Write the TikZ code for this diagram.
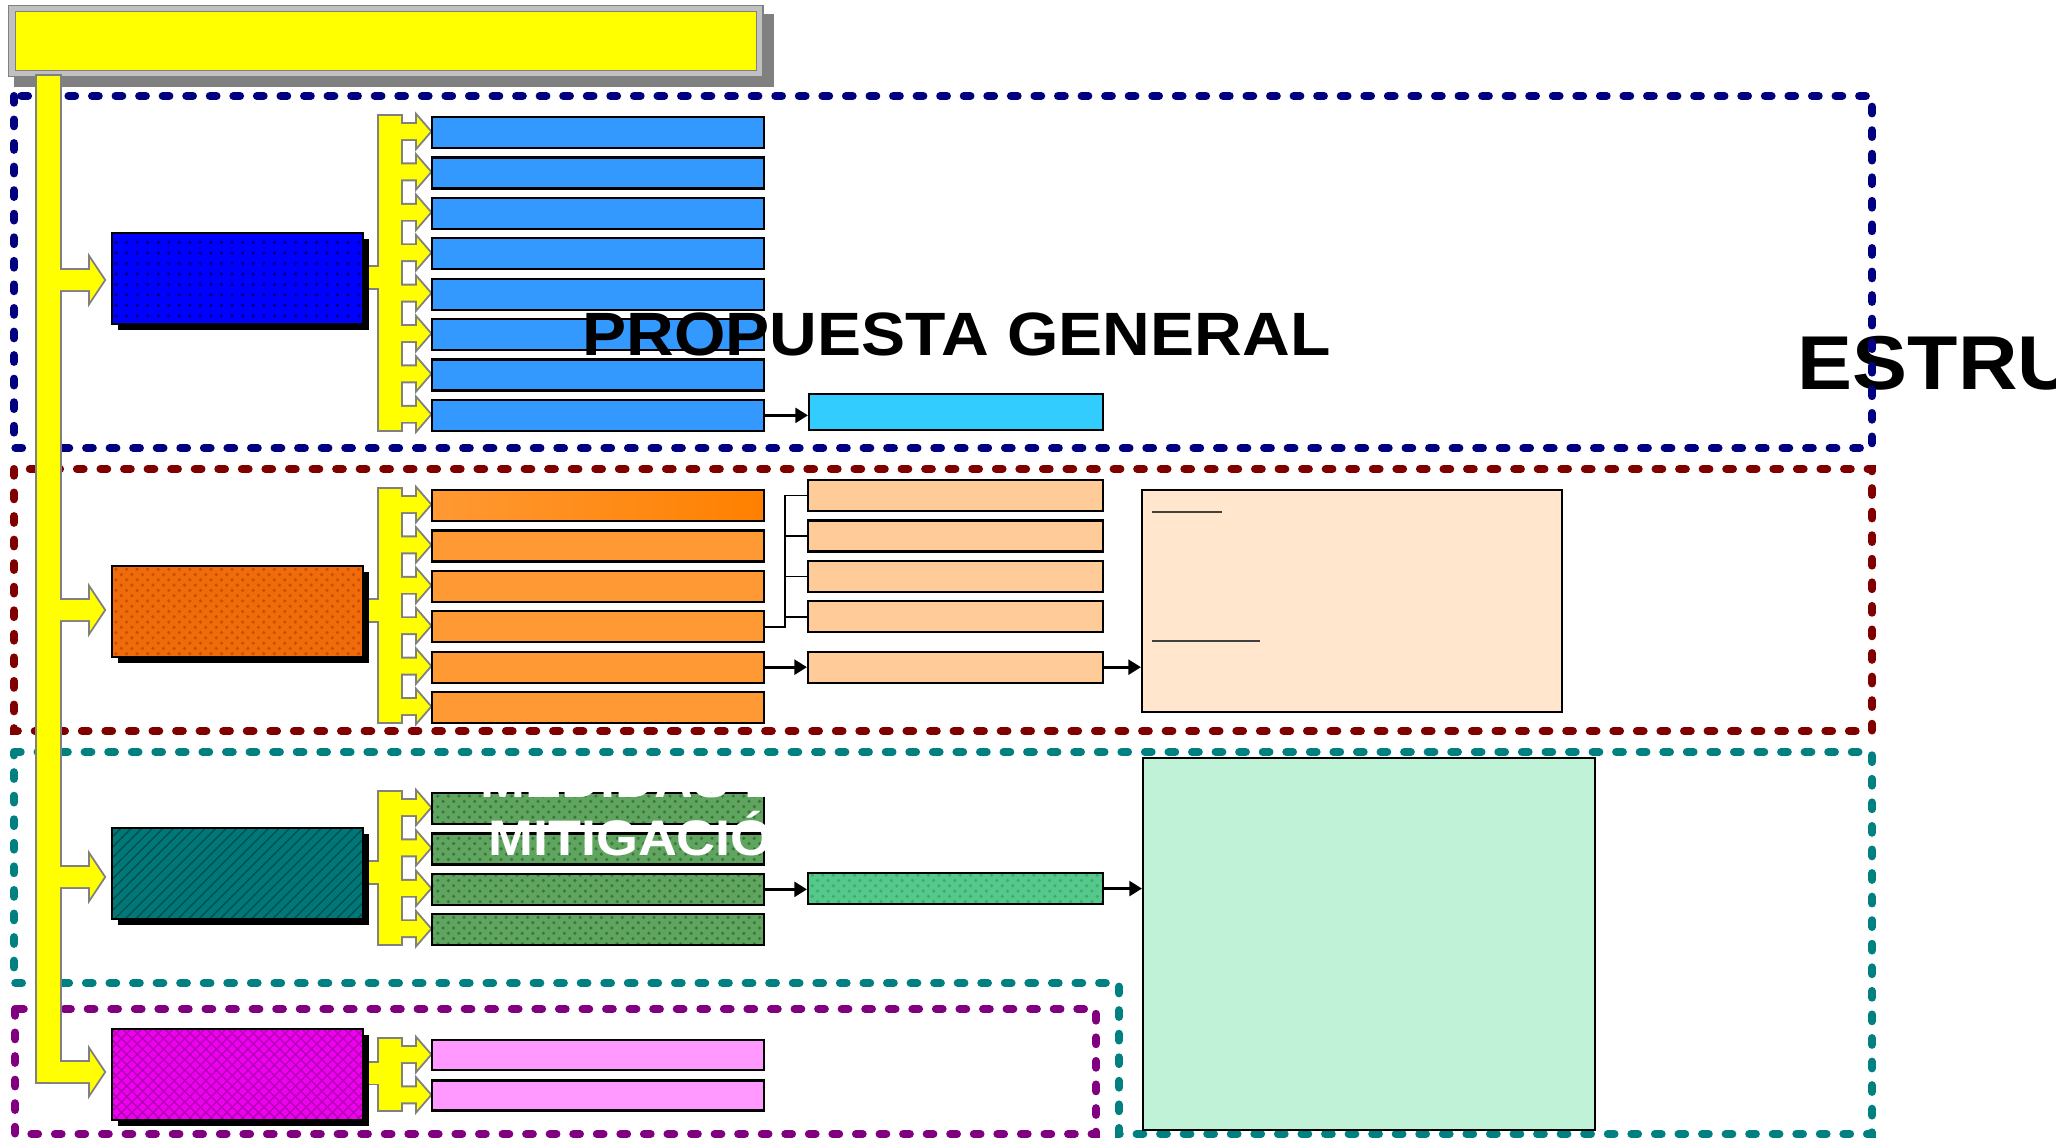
\documentclass[tikz,border=0pt]{standalone}
\usepackage{fontspec}
\setmainfont{Liberation Sans}
\newfontfamily\rotulo[FakeStretch=1.08]{Liberation Sans}
\usetikzlibrary{arrows.meta, patterns, shadows}

\definecolor{amarillo}{RGB}{255,255,0}
\definecolor{grismarco}{RGB}{192,192,192}
\definecolor{grissombra}{RGB}{128,128,128}
\definecolor{azulfuerte}{RGB}{0,0,255}
\definecolor{azulpunto}{RGB}{0,0,120}
\definecolor{azulbarra}{RGB}{51,153,255}
\definecolor{cian}{RGB}{51,204,255}
\definecolor{naranjafuerte}{RGB}{240,108,10}
\definecolor{naranjatrama}{RGB}{200,80,0}
\definecolor{naranjabarra}{RGB}{255,153,51}
\definecolor{naranjavivo}{RGB}{255,128,0}
\definecolor{naranjaclaro}{RGB}{255,204,153}
\definecolor{crema}{RGB}{255,230,204}
\definecolor{verdeazulado}{RGB}{0,120,120}
\definecolor{verdeazuladotrama}{RGB}{0,80,80}
\definecolor{verdebarra}{RGB}{95,165,95}
\definecolor{verdetrama}{RGB}{60,120,60}
\definecolor{verdemedio}{RGB}{85,200,140}
\definecolor{verdemediotrama}{RGB}{65,170,115}
\definecolor{verdeclaro}{RGB}{192,242,216}
\definecolor{fucsia}{RGB}{240,0,240}
\definecolor{fucsiatrama}{RGB}{180,0,180}
\definecolor{rosa}{RGB}{255,153,255}
\definecolor{marino}{RGB}{0,0,128}
\definecolor{granate}{RGB}{128,0,0}
\definecolor{petroleo}{RGB}{0,128,128}
\definecolor{morado}{RGB}{128,0,128}

\tikzset{
  punteado/.style={line width=2.3pt, line cap=round, dash pattern=on 1.9pt off 4.8pt},
  contorno/.style={draw=grissombra, line width=1.1pt},
  relleno/.style={fill=amarillo},
  sombra/.style={drop shadow={shadow xshift=1.7pt, shadow yshift=-1.7pt, opacity=1, fill=black}},
  caja/.style={draw=black, line width=0.5pt, inner sep=0pt, anchor=north west, minimum width=2.51cm, minimum height=0.91cm},
  barra/.style={draw=black, line width=0.6pt, inner sep=0pt, anchor=north west, minimum width=3.32cm, minimum height=0.31cm},
  destino/.style={draw=black, line width=0.6pt, inner sep=0pt, anchor=north west, minimum width=2.95cm, minimum height=0.31cm},
  flecha/.style={line width=0.9pt, -{Triangle[length=3.6pt, width=4.2pt]}},
  rama/.style={line width=0.45pt},
}

\begin{document}
\begin{tikzpicture}[x=0.01cm, y=-0.01cm]

    \useasboundingbox (0,0) rectangle (2056,1139);
    \fill[white] (0,0) rectangle (2056,1139);
    \clip (0,0) rectangle (2056,1139);

    % titulo cortado por el borde
    \node[anchor=base west, inner sep=0pt, font=\rotulo\bfseries\fontsize{21.7}{26}\selectfont] (estru) at (1797,389) {ESTRU};

    % zonas punteadas
    \draw[punteado, marino] (14,96) rectangle (1872,448);
    \draw[punteado, granate] (14,469) rectangle (1872,731);
    \draw[punteado, petroleo] (14,752) -- (1872,752) -- (1872,1134) -- (1119,1134) -- (1119,983) -- (14,983) -- cycle;
    \draw[punteado, morado] (15,1009) rectangle (1096,1134);

    % cabecera
    \fill[grissombra] (14,14) rectangle (774,87);
    \node[draw=grissombra, fill=grismarco, line width=0.4pt, inner sep=0pt, anchor=north west, minimum width=7.54cm, minimum height=0.71cm] (marco) at (8,5) {};
    \node[draw=grissombra, fill=amarillo, line width=0.4pt, inner sep=0pt, minimum width=7.41cm, minimum height=0.59cm] (cabecera) at (marco.center) {};

    % flechas amarillas: primero el contorno, luego el relleno
    \foreach \capa in {contorno,relleno}{
        \path[\capa] (37,76) rectangle (60,1082);
        \foreach \c in {280,610,877,1072}
            \path[\capa] (50,\c-10) -- (90,\c-10) -- (90,\c-21) -- (104,\c) -- (90,\c+21) -- (90,\c+10) -- (50,\c+10) -- cycle;
        \foreach \ya/\nb/\ys/\yb in {%
            116/8/277.5/430,
            489/6/610.5/722,
            792/4/872.5/944,
            1039/2/1073/1110%
        }{
            \path[\capa] (379,\ya) rectangle (401,\yb);
            \path[\capa] (358,\ys-10.5) rectangle (385,\ys+10.5);
            \foreach \k in {1,...,\nb}
                \path[\capa] (395,\ya-32.4+40.4*\k) -- (417,\ya-32.4+40.4*\k) -- (417,\ya-39.9+40.4*\k) -- (430,\ya-24.9+40.4*\k) -- (417,\ya-9.9+40.4*\k) -- (417,\ya-17.4+40.4*\k) -- (395,\ya-17.4+40.4*\k) -- cycle;
        }
    }

    % cajas principales
    \node[caja, sombra, preaction={fill=azulfuerte}, pattern=dots, pattern color=azulpunto] (cajaazul) at (111,232) {};
    \node[caja, sombra, preaction={fill=naranjafuerte}, pattern=crosshatch dots, pattern color=naranjatrama] (cajanaranja) at (111,565) {};
    \node[caja, sombra, preaction={fill=verdeazulado}, pattern=north east lines, pattern color=verdeazuladotrama] (cajaverde) at (111,827) {};
    \node[caja, sombra, preaction={fill=fucsia}, pattern=crosshatch, pattern color=fucsiatrama] (cajafucsia) at (111,1028) {};

    % barras
    \foreach \i in {1,...,8}
        \node[barra, fill=azulbarra] (azul\i) at (431,75.6+40.4*\i) {};
    \node[barra, left color=naranjabarra, right color=naranjavivo] (naranja1) at (431,489) {};
    \foreach \i in {2,...,6}
        \node[barra, fill=naranjabarra] (naranja\i) at (431,448.6+40.4*\i) {};
    \foreach \i in {1,...,4}
        \node[barra, preaction={fill=verdebarra}, pattern=crosshatch dots, pattern color=verdetrama] (verde\i) at (431,751.6+40.4*\i) {};
    \foreach \i in {1,2}
        \node[barra, fill=rosa, minimum height=0.30cm] (rosa\i) at (431,998.6+40.4*\i) {};

    % destinos
    \node[destino, fill=cian, minimum width=2.94cm, minimum height=0.36cm] (cian) at (808,393) {};
    \foreach \i in {1,...,4}
        \node[destino, fill=naranjaclaro] (claro\i) at (807,438.6+40.4*\i) {};
    \node[destino, fill=naranjaclaro] (claro5) at (807,650.6) {};
    \node[destino, preaction={fill=verdemedio}, pattern=crosshatch dots, pattern color=verdemediotrama] (verdemedio) at (807,872) {};
    \node[draw=black, line width=0.6pt, fill=crema, inner sep=0pt, anchor=north west, minimum width=4.2cm, minimum height=2.22cm] (crema) at (1141,489) {};
    \node[draw=black, line width=0.6pt, fill=verdeclaro, inner sep=0pt, anchor=north west, minimum width=4.52cm, minimum height=3.72cm] (verdeclaro) at (1142,757) {};
    \draw[line width=0.45pt, black!75] ([shift={(11,23)}]crema.north west) -- ++(70,0);
    \draw[line width=0.45pt, black!75] ([shift={(11,152)}]crema.north west) -- ++(108,0);

    % enlaces
    \draw[flecha] (azul8.east) -- (azul8.east -| cian.west);
    \coordinate (nudo) at (785,0);
    \draw[rama] (naranja4.east) -| (nudo |- claro1.west) -- (claro1.west);
    \foreach \i in {2,3,4}
        \draw[rama] (nudo |- claro\i.west) -- (claro\i.west);
    \draw[flecha] (naranja5.east) -- (claro5.west);
    \draw[flecha] (claro5.east) -- (claro5.east -| crema.west);
    \draw[flecha] (verde3.east) -- (verde3.east -| verdemedio.west);
    \draw[flecha] (verdemedio.east) -- (verdemedio.east -| verdeclaro.west);

    % textos
    \node[anchor=base west, inner sep=0pt, font=\rotulo\bfseries\fontsize{17.4}{20}\selectfont] (propuesta) at (582,355) {PROPUESTA GENERAL};
    \node[anchor=base, inner sep=0pt, text=white, font=\rotulo\bfseries\fontsize{14.2}{17}\selectfont] (medidas) at (650,797) {MEDIDAS DE};
    \node[anchor=base, inner sep=0pt, text=white, font=\rotulo\bfseries\fontsize{14.2}{17}\selectfont] (mitigacion) at (650,855) {MITIGACIÓN};

\end{tikzpicture}
\end{document}
